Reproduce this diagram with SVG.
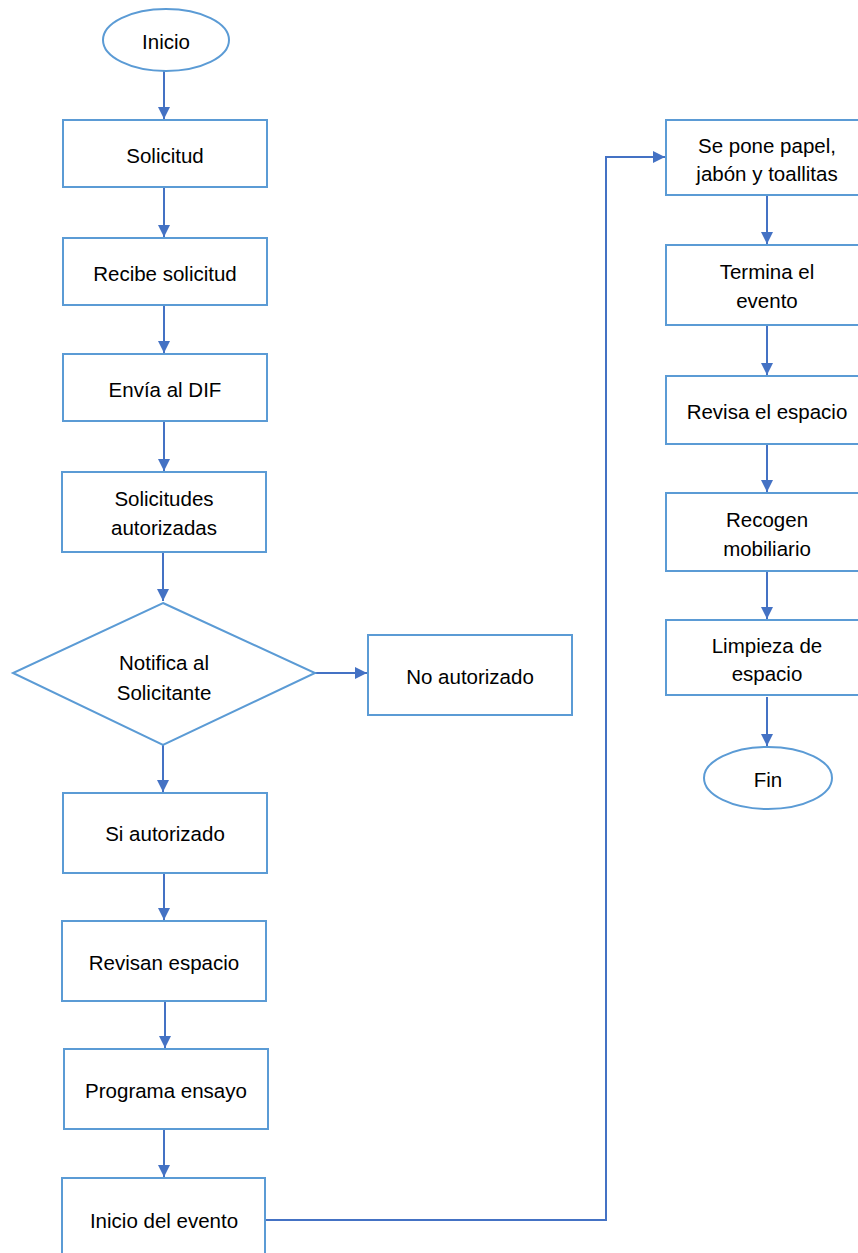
<svg xmlns="http://www.w3.org/2000/svg" width="858" height="1253" viewBox="0 0 858 1253">
<style>
.n{fill:#fff;stroke:#5b9bd5;stroke-width:2}
.c{fill:none;stroke:#4472c4;stroke-width:2}
.t{font-family:"Liberation Sans",Arial,sans-serif;font-size:20.5px;fill:#000;text-anchor:middle;dominant-baseline:central}
</style>
<defs>
<marker id="a" viewBox="0 0 10 10" refX="10" refY="5" markerWidth="6" markerHeight="6" orient="auto" markerUnits="strokeWidth">
<path d="M0,0 L10,5 L0,10 z" fill="#4472c4"/>
</marker>
</defs>
<rect width="858" height="1253" fill="#fff"/>
<g id="connectors">
<path class="c" marker-end="url(#a)" d="M164,71 V119"/>
<path class="c" marker-end="url(#a)" d="M164,188 V237"/>
<path class="c" marker-end="url(#a)" d="M164,306 V353"/>
<path class="c" marker-end="url(#a)" d="M164,422 V471"/>
<path class="c" marker-end="url(#a)" d="M163,553 V601"/>
<path class="c" marker-end="url(#a)" d="M315,673 H367"/>
<path class="c" marker-end="url(#a)" d="M163,745 V792"/>
<path class="c" marker-end="url(#a)" d="M164,874 V920"/>
<path class="c" marker-end="url(#a)" d="M165,1002 V1048"/>
<path class="c" marker-end="url(#a)" d="M164,1130 V1177"/>
<path class="c" marker-end="url(#a)" d="M265,1220 H606 V157 H665"/>
<path class="c" marker-end="url(#a)" d="M767,196 V244"/>
<path class="c" marker-end="url(#a)" d="M767,326 V375"/>
<path class="c" marker-end="url(#a)" d="M767,445 V492"/>
<path class="c" marker-end="url(#a)" d="M767,572 V619"/>
<path class="c" marker-end="url(#a)" d="M767,697 V746"/>
</g>
<g id="inicio"><ellipse class="n" cx="166" cy="40" rx="63" ry="31"/><text class="t" x="166" y="41">Inicio</text></g>
<g id="solicitud"><rect class="n" x="63" y="120" width="204" height="67"/><text class="t" x="165" y="155">Solicitud</text></g>
<g id="recibe"><rect class="n" x="63" y="238" width="204" height="67"/><text class="t" x="165" y="273">Recibe solicitud</text></g>
<g id="envia"><rect class="n" x="63" y="354" width="204" height="67"/><text class="t" x="165" y="389">Envía al DIF</text></g>
<g id="autorizadas"><rect class="n" x="62" y="472" width="204" height="80"/><text class="t" x="164" y="498">Solicitudes</text><text class="t" x="164" y="527">autorizadas</text></g>
<g id="notifica"><polygon class="n" points="163,603 315,673 163,745 13,673"/><text class="t" x="164" y="662">Notifica al</text><text class="t" x="164" y="692">Solicitante</text></g>
<g id="noaut"><rect class="n" x="368" y="635" width="204" height="80"/><text class="t" x="470" y="676">No autorizado</text></g>
<g id="siaut"><rect class="n" x="63" y="793" width="204" height="80"/><text class="t" x="165" y="833">Si autorizado</text></g>
<g id="revisan"><rect class="n" x="62" y="921" width="204" height="80"/><text class="t" x="164" y="962">Revisan espacio</text></g>
<g id="programa"><rect class="n" x="64" y="1049" width="204" height="80"/><text class="t" x="166" y="1090">Programa ensayo</text></g>
<g id="inicioevento"><rect class="n" x="62" y="1178" width="203" height="85"/><text class="t" x="164" y="1220">Inicio del evento</text></g>
<g id="sepone"><rect class="n" x="666" y="120" width="204" height="75"/><text class="t" x="767" y="145">Se pone papel,</text><text class="t" x="767" y="173">jabón y toallitas</text></g>
<g id="termina"><rect class="n" x="666" y="245" width="204" height="80"/><text class="t" x="767" y="271">Termina el</text><text class="t" x="767" y="300">evento</text></g>
<g id="revisa"><rect class="n" x="666" y="376" width="204" height="68"/><text class="t" x="767" y="411">Revisa el espacio</text></g>
<g id="recogen"><rect class="n" x="666" y="493" width="204" height="78"/><text class="t" x="767" y="519">Recogen</text><text class="t" x="767" y="548">mobiliario</text></g>
<g id="limpieza"><rect class="n" x="666" y="620" width="204" height="75"/><text class="t" x="767" y="645">Limpieza de</text><text class="t" x="767" y="673">espacio</text></g>
<g id="fin"><ellipse class="n" cx="768" cy="778" rx="64" ry="31"/><text class="t" x="768" y="779">Fin</text></g>
</svg>
